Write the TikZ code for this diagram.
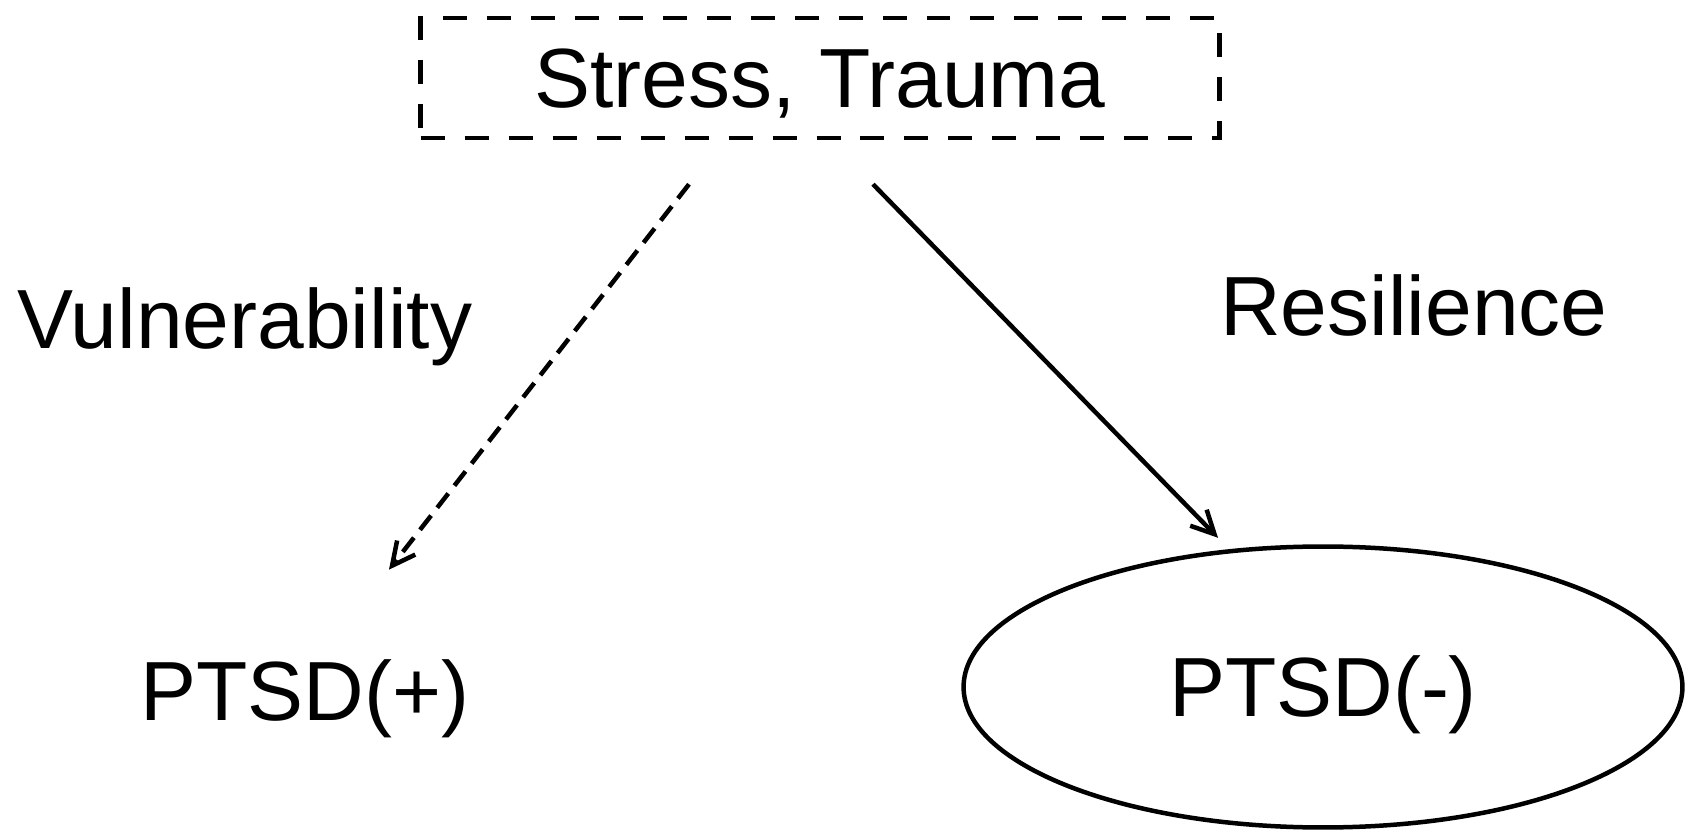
\documentclass[tikz,border=0pt]{standalone}
\usepackage{fontspec}
\setmainfont{Liberation Sans}
\usetikzlibrary{arrows.meta,shapes,calc,positioning}
\tikzset{
	cause/.style={
		rectangle,
		draw,
		line width=0.09cm,
		dash pattern=on 0.48cm off 0.4cm,
		minimum width=15.98cm,
		minimum height=2.4cm,
		inner sep=0pt,
		text height=1.2cm,
		text depth=0pt
	},
	outcome/.style={
		inner sep=0pt,
		text height=1.2cm,
		text depth=0pt
	},
	healthy/.style={
		ellipse,
		draw,
		line width=0.09cm,
		minimum width=14.38cm,
		minimum height=5.62cm,
		inner sep=0pt,
		text height=1.2cm,
		text depth=0pt
	},
	pathway/.style={
		line width=0.09cm,
		->
	}
}
\begin{document}
\begin{tikzpicture}[x=0.02cm,y=0.02cm,>={Straight Barb[length=0.46cm,width=0.46cm]},font=\fontsize{47.8}{57}\selectfont]
		\useasboundingbox (0,0) rectangle (1694,832);
		\node [cause] (stress) at (820,754) {Stress, Trauma};
		\node [outcome,anchor=base] (ptsdp) at (305,112) {PTSD(+)};
		\node [healthy] (ptsdm) at (1323,145) {PTSD(-)};
		\node [anchor=base] (vul) at (245,483) {Vulnerability};
		\node [anchor=base] (res) at (1414,496) {Resilience};
		\draw [pathway,dash pattern=on 0.36cm off 0.2cm] ($(stress.south)+(-131,-44)$) -- ($(ptsdp.north)+(84,90)$);
		\draw [pathway] ($(stress.south)+(53,-44)$) -- ($(ptsdm.north)+(-105,6.5)$);
\end{tikzpicture}
\end{document}
